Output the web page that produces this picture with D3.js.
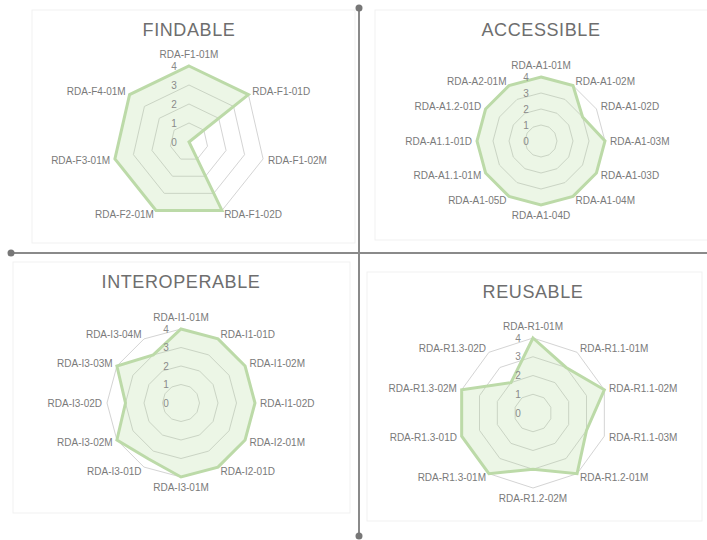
<!DOCTYPE html>
<html>
<head>
<meta charset="utf-8">
<script src="https://cdn.jsdelivr.net/npm/d3@7"></script>
<style>
  body { margin: 0; background: #fff; }
  text { font-family: "Liberation Sans", Arial, sans-serif; }
</style>
</head>
<body>
<svg id="chart" width="707" height="540"></svg>
<script>
// --- data ---
const findableLabels = ['RDA-F1-01M', 'RDA-F1-01D', 'RDA-F1-02M', 'RDA-F1-02D', 'RDA-F2-01M', 'RDA-F3-01M', 'RDA-F4-01M'];
const findableValues = [4, 4, 0, 4, 4, 4, 4];

const accessibleLabels = ['RDA-A1-01M', 'RDA-A1-02M', 'RDA-A1-02D', 'RDA-A1-03M', 'RDA-A1-03D', 'RDA-A1-04M',
  'RDA-A1-04D', 'RDA-A1-05D', 'RDA-A1.1-01M', 'RDA-A1.1-01D', 'RDA-A1.2-01D', 'RDA-A2-01M'];
const accessibleValues = [4, 4, 3, 4, 4, 4, 4, 4, 4, 4, 4, 4];

const interopLabels = ['RDA-I1-01M', 'RDA-I1-01D', 'RDA-I1-02M', 'RDA-I1-02D', 'RDA-I2-01M', 'RDA-I2-01D',
  'RDA-I3-01M', 'RDA-I3-01D', 'RDA-I3-02M', 'RDA-I3-02D', 'RDA-I3-03M', 'RDA-I3-04M'];
const interopValues = [4, 4, 4, 4, 4, 4, 4, 3.5, 4, 3, 4, 3];

const reusableLabels = ['RDA-R1-01M', 'RDA-R1.1-01M', 'RDA-R1.1-02M', 'RDA-R1.1-03M', 'RDA-R1.2-01M',
  'RDA-R1.2-02M', 'RDA-R1.3-01M', 'RDA-R1.3-01D', 'RDA-R1.3-02M', 'RDA-R1.3-02D'];
const reusableValues = [4, 3, 4, 3, 4, 3, 4, 4, 4, 2];

const tickValues = [0, 1, 2, 3, 4];

// --- layout ---
const svg = d3.select('#chart');

const charts = [
  {title: 'FINDABLE', labels: findableLabels, values: findableValues,
   box: [32, 10, 323, 233], cx: 189, cy: 142, r: 76, ty: 36},
  {title: 'ACCESSIBLE', labels: accessibleLabels, values: accessibleValues,
   box: [375, 10, 340, 230], cx: 541, cy: 141, r: 64, ty: 36},
  {title: 'INTEROPERABLE', labels: interopLabels, values: interopValues,
   box: [13, 262, 337, 251], cx: 181, cy: 403, r: 74, ty: 288},
  {title: 'REUSABLE', labels: reusableLabels, values: reusableValues,
   box: [367, 272, 335, 249], cx: 533, cy: 413, r: 75, ty: 298}
];

// panel backgrounds
svg.selectAll('rect.panel')
  .data(charts)
  .enter()
  .append('rect')
    .attr('class', 'panel')
    .attr('x', d => d.box[0])
    .attr('y', d => d.box[1])
    .attr('width', d => d.box[2])
    .attr('height', d => d.box[3])
    .attr('fill', '#fff')
    .attr('stroke', '#f1f1f1')
    .attr('stroke-width', 1);

// quadrant axes
const axisColor = '#8a8a8a';
svg.append('line')
  .attr('x1', 359).attr('x2', 359).attr('y1', 8).attr('y2', 536)
  .attr('stroke', axisColor).attr('stroke-width', 2);
svg.append('line')
  .attr('x1', 11).attr('x2', 707).attr('y1', 253).attr('y2', 253)
  .attr('stroke', axisColor).attr('stroke-width', 2);
[[359, 8], [359, 536], [11, 253]].forEach(p => {
  svg.append('circle').attr('cx', p[0]).attr('cy', p[1]).attr('r', 3.5).attr('fill', '#777');
});

const drawRadar = (c) => {
  const n = c.labels.length;
  const g = svg.append('g').attr('transform', `translate(${c.cx}, ${c.cy})`);

  const rScale = d3.scaleLinear().domain([0, 4]).range([0, c.r]);
  const angle = d3.scalePoint().domain(d3.range(n + 1)).range([0, 2 * Math.PI]);

  // grid rings
  tickValues.slice(1).forEach(t => {
    const ring = d3.lineRadial()
      .angle((d, i) => angle(i))
      .radius(rScale(t))
      .curve(d3.curveLinearClosed);
    g.append('path')
      .attr('d', ring(c.labels))
      .attr('fill', 'none')
      .attr('stroke', '#d4d4d4')
      .attr('stroke-width', 1);
  });

  // data area
  const area = d3.lineRadial()
    .angle((d, i) => angle(i))
    .radius(d => rScale(d))
    .curve(d3.curveLinearClosed);
  g.append('path')
    .attr('d', area(c.values))
    .attr('fill', 'rgba(170, 214, 140, 0.22)')
    .attr('stroke', '#bcdaa8')
    .attr('stroke-width', 3)
    .attr('stroke-linejoin', 'miter');

  // tick labels
  g.selectAll('text.tick')
    .data(tickValues)
    .enter()
    .append('text')
      .attr('class', 'tick')
      .attr('x', -15)
      .attr('y', d => -rScale(d))
      .attr('dy', '0.35em')
      .attr('text-anchor', 'middle')
      .attr('font-size', 10)
      .attr('fill', '#8a8a8a')
      .text(d => d);

  // point labels
  g.selectAll('text.lbl')
    .data(c.labels)
    .enter()
    .append('text')
      .attr('class', 'lbl')
      .each(function(d, i) {
        const a = angle(i);
        const s = Math.sin(a), co = Math.cos(a);
        const rr = c.r + 5;
        let x = rr * s, y = -rr * co;
        let anchor = Math.abs(s) < 1e-6 ? 'middle' : (s > 0 ? 'start' : 'end');
        if (Math.abs(s) < 1e-6) {
          y += co > 0 ? -3 : 9;
        } else {
          y += 3.5;
        }
        d3.select(this)
          .attr('x', x)
          .attr('y', y)
          .attr('text-anchor', anchor);
      })
      .attr('font-size', 10)
      .attr('fill', '#7a7a7a')
      .text(d => d);

  // title
  svg.append('text')
    .attr('x', c.box[0] + c.box[2] / 2 > c.cx + 40 ? c.cx : c.cx)
    .attr('y', c.ty)
    .attr('text-anchor', 'middle')
    .attr('font-size', 18)
    .attr('letter-spacing', 0.6)
    .attr('fill', '#6e6e6e')
    .text(c.title);
};

charts.forEach(drawRadar);
</script>
</body>
</html>
